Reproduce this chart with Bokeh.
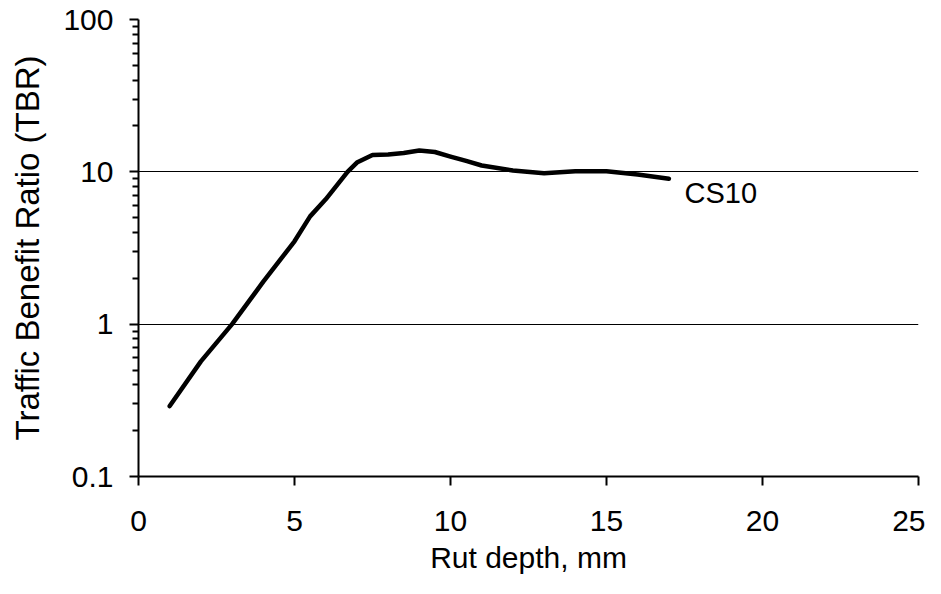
from bokeh.plotting import figure
from bokeh.models import FixedTicker, Label
from bokeh.embed import file_html
from bokeh.resources import INLINE

rut_depth = [1, 2, 3, 4, 5, 5.5, 6, 6.7, 7, 7.5, 8, 8.5, 9, 9.5, 10, 10.5, 11, 12, 13, 14, 15, 16, 17]
tbr = [0.29, 0.57, 1.0, 1.9, 3.5, 5.1, 6.6, 10.0, 11.5, 12.9, 13.0, 13.3, 13.8, 13.5, 12.6, 11.8, 11.0, 10.2, 9.8, 10.1, 10.1, 9.6, 9.0]
series_label = "CS10"
x_ticks = [0, 5, 10, 15, 20, 25]
y_ticks = [0.1, 1, 10, 100]
y_tick_labels = ["0.1", "1", "10", "100"]

FONT = "Liberation Sans"

p = figure(width=925, height=578, y_axis_type="log",
           x_range=(0, 25), y_range=(0.1, 100),
           output_backend="svg", toolbar_location=None,
           min_border_left=138, min_border_right=7,
           min_border_top=19, min_border_bottom=102)
p.outline_line_color = None
p.background_fill_color = "white"

p.line(rut_depth, tbr, line_width=4.5, line_color="black", line_join="round", line_cap="round")

p.add_layout(Label(x=17.5, y=7.3, text=series_label, text_font=FONT,
                   text_font_size="29px", text_baseline="middle", text_align="left",
                   text_color="black"))

minor = []
for d in [0.1, 1, 10]:
    for k in range(2, 10):
        minor.append(d * k)

p.xaxis.ticker = FixedTicker(ticks=x_ticks)
p.yaxis.ticker = FixedTicker(ticks=y_ticks, minor_ticks=minor)
p.yaxis.major_label_overrides = {t: l for t, l in zip(y_ticks, y_tick_labels)}

p.xgrid.grid_line_color = None
p.ygrid.grid_line_color = "black"
p.ygrid.grid_line_width = 1
p.ygrid.ticker = FixedTicker(ticks=y_ticks)

for ax in (p.xaxis, p.yaxis):
    ax.axis_line_color = "black"
    ax.axis_line_width = 2
    ax.major_tick_line_color = "black"
    ax.major_tick_line_width = 2
    ax.major_tick_in = 0
    ax.major_tick_out = 9
    ax.major_label_text_font = FONT
    ax.major_label_text_font_size = "30px"
    ax.major_label_text_color = "black"
    ax.axis_label_text_font = FONT
    ax.axis_label_text_font_style = "normal"
    ax.axis_label_text_color = "black"

p.xaxis.axis_label_text_font_size = "30px"
p.yaxis.axis_label_text_font_size = "33px"

p.xaxis.minor_tick_line_color = None
p.yaxis.minor_tick_line_color = "black"
p.yaxis.minor_tick_line_width = 2
p.yaxis.minor_tick_in = 0
p.yaxis.minor_tick_out = 6

p.xaxis.major_label_standoff = 25
p.yaxis.major_label_standoff = 16
p.xaxis.axis_label = "Rut depth, mm"
p.yaxis.axis_label = "Traffic Benefit Ratio (TBR)"
p.xaxis.axis_label_standoff = 7
p.yaxis.axis_label_standoff = 14

open("out.html", "w").write(file_html(p, INLINE))
